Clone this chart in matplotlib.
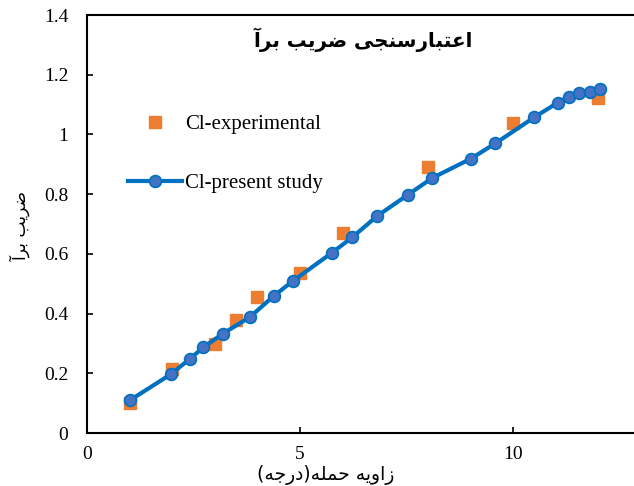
import matplotlib
matplotlib.use("Agg")
import matplotlib.pyplot as plt

# ---------------- data ----------------
exp_x = [1, 2, 3, 3.5, 4, 5, 6, 8, 10, 12]
exp_y = [0.101, 0.214, 0.298, 0.378, 0.454, 0.535, 0.671, 0.892, 1.039, 1.121]

pres_x = [1.01, 1.97, 2.41, 2.73, 3.19, 3.82, 4.39, 4.83, 5.75, 6.22, 6.81,
          7.52, 8.10, 9.01, 9.58, 10.49, 11.04, 11.30, 11.55, 11.80, 12.04]
pres_y = [0.110, 0.197, 0.248, 0.287, 0.333, 0.388, 0.460, 0.509, 0.604, 0.655,
          0.727, 0.797, 0.854, 0.919, 0.970, 1.057, 1.106, 1.126, 1.138, 1.141, 1.151]

x_ticks = [0, 5, 10]
y_ticks = [0, 0.2, 0.4, 0.6, 0.8, 1.0, 1.2, 1.4]
y_tick_labels = ["0", "0.2", "0.4", "0.6", "0.8", "1", "1.2", "1.4"]

title_text = "اعتبارسنجی ضریب برآ"
xlabel_text = "زاویه حمله(درجه)"
ylabel_text = "ضریب برآ"
label_exp = "Cl-experimental"
label_pres = "Cl-present study"

# ------------- simple Arabic/Persian shaping -------------
# (isolated, final, initial, medial)
FORMS = {
    'ا': ('\uFE8D', '\uFE8E', None, None),
    'آ': ('\uFE81', '\uFE82', None, None),
    'ب': ('\uFE8F', '\uFE90', '\uFE91', '\uFE92'),
    'ت': ('\uFE95', '\uFE96', '\uFE97', '\uFE98'),
    'ج': ('\uFE9D', '\uFE9E', '\uFE9F', '\uFEA0'),
    'ح': ('\uFEA1', '\uFEA2', '\uFEA3', '\uFEA4'),
    'د': ('\uFEA9', '\uFEAA', None, None),
    'ر': ('\uFEAD', '\uFEAE', None, None),
    'ز': ('\uFEAF', '\uFEB0', None, None),
    'س': ('\uFEB1', '\uFEB2', '\uFEB3', '\uFEB4'),
    'ض': ('\uFEBD', '\uFEBE', '\uFEBF', '\uFEC0'),
    'ع': ('\uFEC9', '\uFECA', '\uFECB', '\uFECC'),
    'ل': ('\uFEDD', '\uFEDE', '\uFEDF', '\uFEE0'),
    'م': ('\uFEE1', '\uFEE2', '\uFEE3', '\uFEE4'),
    'ن': ('\uFEE5', '\uFEE6', '\uFEE7', '\uFEE8'),
    'ه': ('\uFEE9', '\uFEEA', '\uFEEB', '\uFEEC'),
    'و': ('\uFEED', '\uFEEE', None, None),
    'ی': ('\uFEEF', '\uFEF0', '\uFEF3', '\uFEF4'),
}


def shape_rtl(s):
    out = []
    n = len(s)
    for i, ch in enumerate(s):
        if ch not in FORMS:
            out.append(ch)
            continue
        f = FORMS[ch]
        prev = s[i - 1] if i > 0 else None
        nxt = s[i + 1] if i < n - 1 else None
        prev_joins = prev in FORMS and FORMS[prev][2] is not None
        next_joins = nxt in FORMS and f[2] is not None
        if prev_joins and next_joins:
            out.append(f[3])
        elif prev_joins:
            out.append(f[1])
        elif next_joins:
            out.append(f[2])
        else:
            out.append(f[0])
    vis = ''.join(reversed(out))
    vis = vis.translate(str.maketrans({'(': ')', ')': '('}))
    return vis


# ---------------- figure ----------------
W, H = 634, 486
fig = plt.figure(figsize=(W / 100, H / 100), dpi=100)
ax = fig.add_axes([87 / W, (H - 433) / H, 1 - 87 / W, (433 - 15) / H])

serif = ['Liberation Serif', 'DejaVu Serif']
arab = ['DejaVu Sans']

ax.plot(pres_x, pres_y, color='#0070C0', lw=3.0, marker='o', markersize=8.5,
        markerfacecolor='#4472C4', markeredgecolor='#0070C0', markeredgewidth=1.2,
        label=label_pres, zorder=3)
ax.plot(exp_x, exp_y, linestyle='none', marker='s', markersize=9,
        color='#ED7D31', label=label_exp, zorder=2)

ax.set_xlim(0, (W - 86) / 42.7)
ax.set_ylim(0, 1.4)
ax.set_xticks(x_ticks)
ax.set_xticklabels([str(t) for t in x_ticks], fontfamily=serif, fontsize=14)
ax.set_yticks(y_ticks)
ax.set_yticklabels(y_tick_labels, fontfamily=serif, fontsize=14)
ax.tick_params(axis='both', direction='in', length=4, width=1.2, color='black')
ax.tick_params(axis='y', pad=13.5)
ax.tick_params(axis='x', pad=9)
for side in ('left', 'bottom', 'top'):
    ax.spines[side].set_linewidth(1.5)
ax.spines['right'].set_visible(False)

handles, labels = ax.get_legend_handles_labels()
order = [1, 0]
leg = ax.legend([handles[i] for i in order], [labels[i] for i in order],
                loc='upper left', bbox_to_anchor=((118 - 87) / (W - 87), (433 - 104) / 418),
                frameon=False, prop={'family': serif, 'size': 15},
                handlelength=2.55, handletextpad=0.15, labelspacing=1.9, borderpad=0)

fig.text(363 / W, 1 - 40 / H, shape_rtl(title_text), ha='center', va='center',
         fontfamily=arab, fontweight='bold', fontsize=14.3)
fig.text(326 / W, 1 - 475 / H, shape_rtl(xlabel_text), ha='center', va='center',
         fontfamily=arab, fontsize=13.5)
fig.text(20 / W, 1 - 226 / H, shape_rtl(ylabel_text), ha='center', va='center',
         rotation=90, fontfamily=arab, fontsize=12.3)

fig.savefig('out.png', dpi=100)
